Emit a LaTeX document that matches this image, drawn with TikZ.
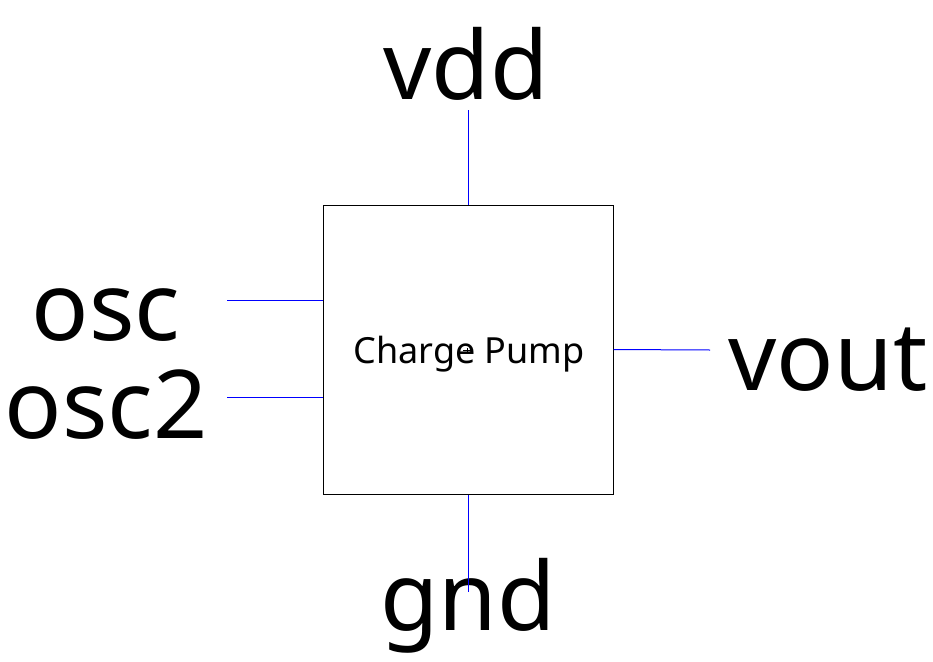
\documentclass[tikz,border=0pt]{standalone}
\usepackage{fontspec}
\setmainfont{Noto Sans}
\begin{document}
\begin{tikzpicture}[x=1pt,y=-1pt,
  wire/.style={blue,line width=1pt},
  big/.style={font=\fontsize{95}{100}\selectfont,inner sep=0pt,anchor=base},
  blk/.style={draw=black,line width=1pt,minimum width=290pt,minimum height=289pt,inner sep=0pt}]
\useasboundingbox (0,0) rectangle (933,661);
\node[blk] (cp) at (468,349.5) {};
\node[font=\fontsize{36}{40}\selectfont,inner sep=0pt,anchor=base] (cpl) at (469,363) {Charge Pump};
\draw[line width=0.8pt] (463,350) -- (473,350) (467,348) -- (467,352);
\node[big] (vdd) at (466,99) {vdd};
\node[big] (gnd) at (468,630) {gnd};
\node[big] (osc) at (106,340) {osc};
\node[big] (osc2) at (106,438) {osc2};
\node[big] (vout) at (828,390) {vout};
\coordinate (vddend) at (468,110);
\coordinate (gndend) at (468,592);
\coordinate (oscend) at (227,300);
\coordinate (osc2end) at (227,397);
\coordinate (voutend) at (710,350);
\draw[wire] (vddend) -- (cp.north);
\draw[wire] (cp.south) -- (gndend);
\draw[wire] (oscend) -- (oscend -| cp.west);
\draw[wire] (osc2end) -- (osc2end -| cp.west);
\draw[wire] (cp.east) -- (voutend);
\end{tikzpicture}
\end{document}
